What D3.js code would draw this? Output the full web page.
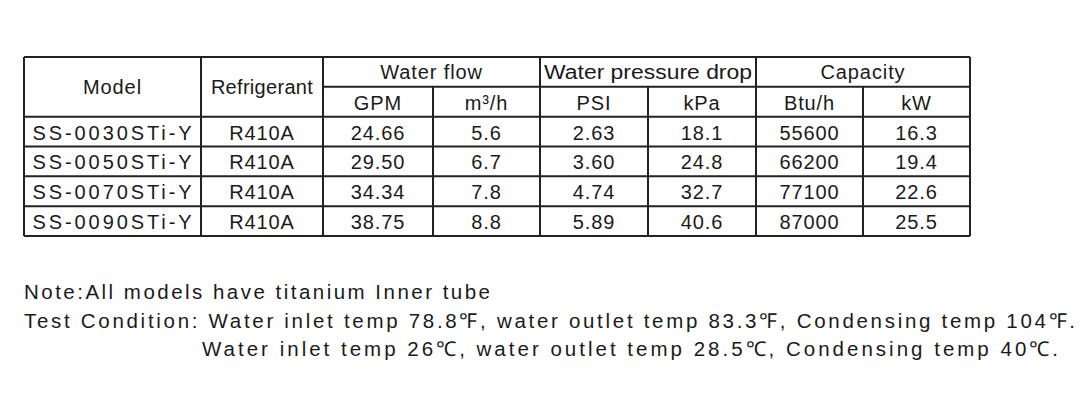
<!DOCTYPE html>
<html><head><meta charset="utf-8">
<script src="https://cdn.jsdelivr.net/npm/d3@7"></script>
<style>body{margin:0;background:#fff}svg{display:block}text{font-family:"Liberation Sans",Arial,sans-serif;fill:#1a1a1a}</style>
</head><body><svg id="c" width="1088" height="400"></svg>
<script>
const models=["SS-0030STi-Y","SS-0050STi-Y","SS-0070STi-Y","SS-0090STi-Y"];
const refrigerant=["R410A","R410A","R410A","R410A"];
const gpm=["24.66","29.50","34.34","38.75"];
const m3h=["5.6","6.7","7.8","8.8"];
const psi=["2.63","3.60","4.74","5.89"];
const kpa=["18.1","24.8","32.7","40.6"];
const btu=["55600","66200","77100","87000"];
const kw=["16.3","19.4","22.6","25.5"];
const groups=[{t:"Water flow",c:[2,3]},{t:"Water pressure drop",c:[4,5]},{t:"Capacity",c:[6,7]}];
const subHeads=["GPM","m³/h","PSI","kPa","Btu/h","kW"];
const notes=["Note:All models have titanium Inner tube",
"Test Condition: Water inlet temp 78.8℉, water outlet temp 83.3℉, Condensing temp 104℉.",
"Water inlet temp 26℃,  water outlet temp 28.5℃,  Condensing temp 40℃."];

const svg=d3.select("#c");
const colEdges=[24,201,323,433,540,648,756,863,970];
const x=i=>colEdges[i];
const y=d3.scaleLinear().domain([0,6]).range([57,236]);
const cols=[models,refrigerant,gpm,m3h,psi,kpa,btu,kw];
const g=svg.append("g");
const fs=20, ls="0.9px";
const txt=(cx,cy,t)=>g.append("text").attr("x",cx).attr("y",cy).attr("text-anchor","middle").attr("font-size",fs).attr("letter-spacing",ls).text(t);
txt((x(0)+x(1))/2,(y(0)+y(2))/2+7,"Model");
txt((x(1)+x(2))/2,(y(0)+y(2))/2+7,"Refrigerant").attr("letter-spacing","0.3px");
groups.forEach(gr=>{
  const t=txt((x(gr.c[0])+x(gr.c[1]+1))/2,(y(0)+y(1))/2+7,gr.t);
  if(gr.t.length>15) t.attr("letter-spacing","0px").attr("textLength",208).attr("lengthAdjust","spacingAndGlyphs");
});
subHeads.forEach((h,i)=>txt((x(i+2)+x(i+3))/2,(y(1)+y(2))/2+8,h));
cols.forEach((col,ci)=>col.forEach((v,ri)=>{
  const t=txt((x(ci)+x(ci+1))/2,(y(ri+2)+y(ri+3))/2+8,v);
  if(ci===0) t.attr("textLength",160).attr("lengthAdjust","spacing");
}));
const line=(x1,y1,x2,y2)=>g.append("line").attr("x1",x1).attr("y1",y1).attr("x2",x2).attr("y2",y2).attr("stroke","#222").attr("stroke-width",2);
[0,2,3,4,5,6].forEach(r=>line(x(0),y(r),x(8),y(r)));
line(x(2),y(1),x(8),y(1));
colEdges.forEach((cx,i)=>{
  if([3,5,7].includes(i)) line(cx,y(1),cx,y(6)); else line(cx,y(0),cx,y(6));
});
const ny=[299,328,356], nx=[24,24,202], nl=[466,1051,856];
notes.forEach((n,i)=>svg.append("text").attr("x",nx[i]).attr("y",ny[i]).attr("font-size",20.5)
  .attr("textLength",nl[i]).attr("lengthAdjust","spacing").text(n));
</script></body></html>
